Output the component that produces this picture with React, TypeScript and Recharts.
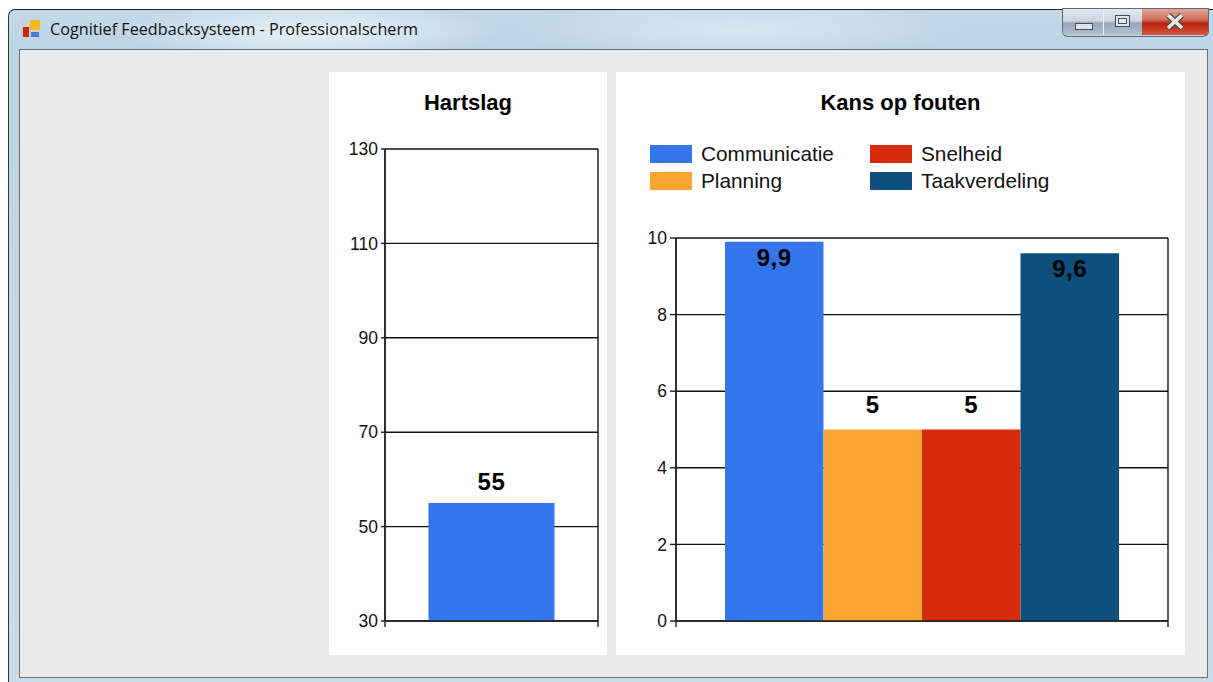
import React from "react";
import { BarChart, Bar, XAxis, YAxis, CartesianGrid, LabelList, Legend } from "recharts";

const FONT = "'Liberation Sans', Arial, sans-serif";

const heartSeries = ["Hartslag"];
const heartValues = [55];
const heartTicks = [30, 50, 70, 90, 110, 130];

const riskSeries = ["Communicatie", "Planning", "Snelheid", "Taakverdeling"];
const riskValues = [9.9, 5, 5, 9.6];
const riskColors = ["#3575eb", "#fba632", "#d62c0b", "#0f4f7e"];
const riskLabelPositions = ["insideTop", "top", "top", "insideTop"];
const riskTicks = [0, 2, 4, 6, 8, 10];

const heartRows = [{ slot: 0.5, [heartSeries[0]]: heartValues[0] }];
const riskRows = [
  Object.fromEntries([["slot", 0.5], ...riskSeries.map((name, i) => [name, riskValues[i]])]),
];

const commaDecimal = (v: unknown) => String(v).replace(".", ",");
const noLabel = () => "";

const valueLabelStyle = { fontFamily: FONT, fontWeight: 700, fontSize: 24, letterSpacing: 0.6, fill: "#000" };
const tickStyle = { fontFamily: FONT, fontSize: 17.5, fill: "#111" };

function Panel(props: { left: number; width: number; title: string; children: React.ReactNode }) {
  return (
    <div style={{ position: "absolute", left: props.left, top: 72, width: props.width, height: 583, background: "#fff" }}>
      <div
        style={{
          position: "absolute",
          top: 18,
          left: 0,
          width: "100%",
          textAlign: "center",
          font: `700 22px ${FONT}`,
          color: "#000",
          zIndex: 2,
        }}
      >
        {props.title}
      </div>
      {props.children}
    </div>
  );
}

// Two-column legend, filled column by column.
function RiskLegend({ payload }: { payload?: { value: string; color: string }[] }) {
  return (
    <div
      style={{
        display: "grid",
        gridAutoFlow: "column",
        gridTemplateRows: "27px 27px",
        gridTemplateColumns: "220px 220px",
        font: `20.8px ${FONT}`,
        color: "#111",
      }}
    >
      {(payload ?? []).map((entry) => (
        <div key={entry.value} style={{ display: "flex", alignItems: "center", height: 27 }}>
          <span style={{ width: 42, height: 18, background: entry.color, marginRight: 9, flex: "none" }} />
          {entry.value}
        </div>
      ))}
    </div>
  );
}

function HeartChart() {
  return (
    <BarChart width={278} height={583} data={heartRows} margin={{ top: 77, right: 9, bottom: 0, left: 0 }}>
      <CartesianGrid stroke="#111" strokeWidth={1.4} />
      <XAxis
        dataKey="slot"
        type="number"
        domain={[0, 1]}
        ticks={[0, 1]}
        height={34}
        tickFormatter={noLabel}
        tickSize={6}
        stroke="#222"
        strokeWidth={1.4}
      />
      <YAxis
        width={56}
        domain={[30, 130]}
        ticks={heartTicks}
        interval={0}
        allowDataOverflow
        tick={tickStyle}
        tickSize={4}
        tickMargin={3}
        stroke="#222"
        strokeWidth={1.4}
      />
      <Bar dataKey={heartSeries[0]} fill="#3575eb" barSize={126} isAnimationActive={false}>
        <LabelList dataKey={heartSeries[0]} position="top" offset={13} style={valueLabelStyle} />
      </Bar>
    </BarChart>
  );
}

function RiskChart() {
  return (
    <BarChart width={569} height={583} data={riskRows} barGap={0} margin={{ top: 112, right: 17, bottom: 0, left: 0 }}>
      <CartesianGrid stroke="#111" strokeWidth={1.4} />
      <XAxis
        dataKey="slot"
        type="number"
        domain={[0, 1]}
        ticks={[0, 1]}
        height={34}
        tickFormatter={noLabel}
        tickSize={6}
        stroke="#222"
        strokeWidth={1.4}
      />
      <YAxis
        width={60}
        domain={[0, 10]}
        ticks={riskTicks}
        interval={0}
        tick={tickStyle}
        tickSize={6}
        tickMargin={3}
        stroke="#222"
        strokeWidth={1.4}
      />
      <Legend
        layout="horizontal"
        align="left"
        verticalAlign="top"
        wrapperStyle={{ left: 34, top: 68, width: 460 }}
        content={(p: any) => <RiskLegend payload={p.payload} />}
      />
      {riskSeries.map((name, i) => (
        <Bar key={name} dataKey={name} fill={riskColors[i]} barSize={98.5} isAnimationActive={false}>
          <LabelList
            dataKey={name}
            position={riskLabelPositions[i] as any}
            offset={riskLabelPositions[i] === "top" ? 17 : 7}
            formatter={commaDecimal}
            style={valueLabelStyle}
          />
        </Bar>
      ))}
    </BarChart>
  );
}

// Small four-square application icon in the title bar.
function AppIcon() {
  return (
    <svg width={20} height={20} style={{ position: "absolute", left: 21, top: 19 }}>
      <rect x={0.5} y={0.5} width={19} height={19} fill="#cfcfd2" />
      <rect x={2} y={8} width={6} height={10} fill="#c9261d" />
      <rect x={9} y={1} width={10} height={10} fill="#f4b820" />
      <rect x={10} y={13} width={8} height={5} fill="#3f7fe0" />
    </svg>
  );
}

function WindowButtons() {
  const base: React.CSSProperties = { position: "absolute", top: 0, height: 26 };
  return (
    <div
      style={{
        position: "absolute",
        left: 1063,
        top: 9,
        width: 145,
        height: 27,
        borderRadius: "0 0 5px 5px",
        overflow: "hidden",
        boxShadow: "0 0 0 1px #5d6a78",
      }}
    >
      <div style={{ ...base, left: 0, width: 40, background: "linear-gradient(#e3e9ef 0%, #ccd6e0 45%, #98a8b8 55%, #b4c2cf 100%)", borderRight: "1px solid #eef" }}>
        <div style={{ position: "absolute", left: 12, top: 14, width: 16, height: 5, background: "#dfe5ea", border: "1px solid #46505c" }} />
      </div>
      <div style={{ ...base, left: 41, width: 38, background: "linear-gradient(#e3e9ef 0%, #ccd6e0 45%, #98a8b8 55%, #b4c2cf 100%)" }}>
        <div style={{ position: "absolute", left: 11, top: 6, width: 13, height: 10, background: "#dfe5ea", border: "1px solid #46505c" }}>
          <div style={{ position: "absolute", left: 2, top: 2, width: 7, height: 4, border: "1px solid #46505c" }} />
        </div>
      </div>
      <div style={{ ...base, left: 79, width: 66, background: "linear-gradient(#e4a598 0%, #d2705f 40%, #b9230f 55%, #d8553c 100%)" }}>
        <svg width={66} height={26}>
          <path d="M26 6 L40 19 M40 6 L26 19" stroke="#4c4c4c" strokeWidth={6} />
          <path d="M26 6 L40 19 M40 6 L26 19" stroke="#e8e8e8" strokeWidth={3.6} />
        </svg>
      </div>
    </div>
  );
}

export default function App() {
  return (
    <div style={{ position: "absolute", left: 0, top: 0, width: 1213, height: 682, overflow: "hidden", background: "#fff" }}>
      <div
        style={{
          position: "absolute",
          left: 8,
          top: 9,
          width: 1205,
          height: 673,
          borderRadius: "7px 0 0 0",
          borderTop: "1px solid #222",
          borderLeft: "1px solid #333",
          boxSizing: "border-box",
          background:
            "radial-gradient(ellipse 190px 30px at 300px 22px, #eaf2f8 0%, rgba(234,242,248,0) 100%), radial-gradient(ellipse 220px 34px at 730px 20px, #d6e6f1 0%, rgba(214,230,241,0) 100%), linear-gradient(#c3d9ea, #bcd4e6 40px, #c9dcea)",
        }}
      />
      <AppIcon />
      <div style={{ position: "absolute", left: 50, top: 18, font: "16.2px 'Open Sans', sans-serif", color: "#111", whiteSpace: "nowrap" }}>
        Cognitief Feedbacksysteem - Professionalscherm
      </div>
      <WindowButtons />
      <div
        style={{
          position: "absolute",
          left: 19,
          top: 49,
          width: 1189,
          height: 629,
          boxSizing: "border-box",
          background: "#ebebeb",
          border: "1px solid #68727c",
        }}
      />
      <Panel left={329} width={278} title={heartSeries[0]}>
        <HeartChart />
      </Panel>
      <Panel left={616} width={569} title="Kans op fouten">
        <RiskChart />
      </Panel>
    </div>
  );
}
